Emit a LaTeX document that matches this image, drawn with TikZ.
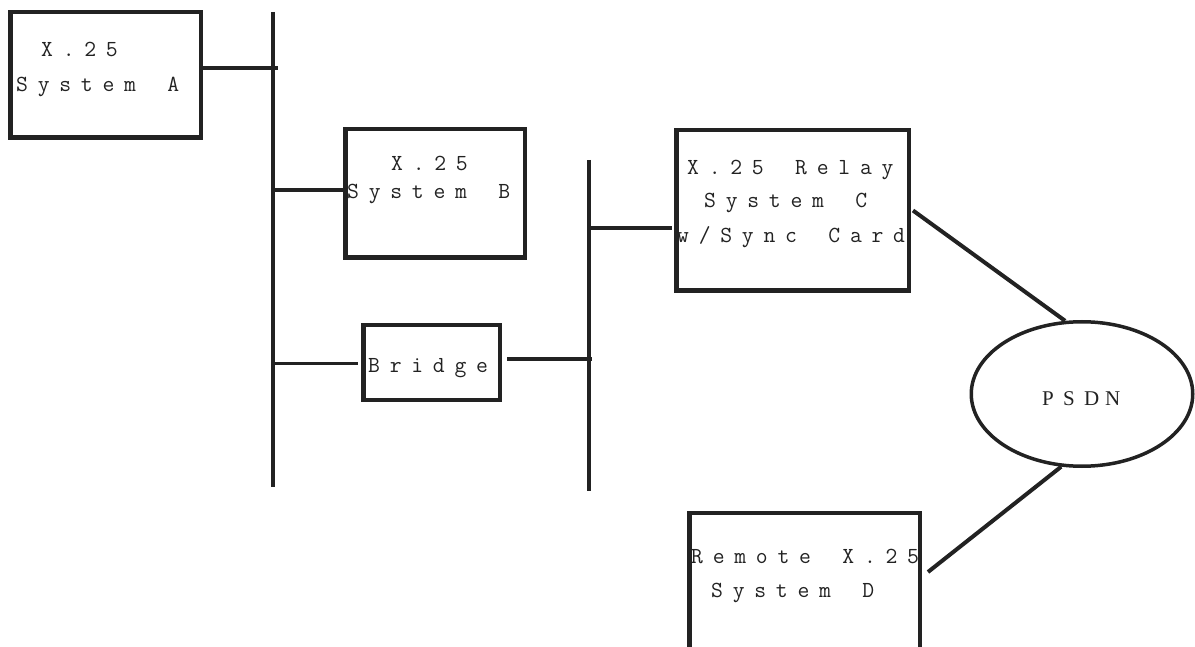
\documentclass[tikz,border=0pt]{standalone}
\usepackage{fontspec}
\newfontfamily\psdnfont{Liberation Serif}
\usetikzlibrary{shapes.geometric}
\definecolor{ink}{HTML}{222222}
\makeatletter
\newcommand\spaced[2][21.6pt]{\@tfor\@ch:=#2\do{\makebox[#1][l]{\@ch}}}
\makeatother
\begin{document}
\begin{tikzpicture}[x=1pt,y=-1pt,
  boxnode/.style={draw=ink, line width=4.5pt, inner sep=0pt, rectangle},
  bus/.style={draw=ink, line width=4pt},
  wire/.style={draw=ink, line width=3.5pt},
  lbl/.style={anchor=base west, inner sep=0pt, text=ink,
    font=\ttfamily\fontsize{23}{23}\selectfont}]
\useasboundingbox (0,0) rectangle (1195,647);
\clip (0,0) rectangle (1195,647);
% boxes
\node[boxnode, minimum width=190.5pt, minimum height=125.5pt] (A) at (105.5,75) {};
\node[boxnode, minimum width=179.5pt, minimum height=128.5pt] (B) at (435,193.5) {};
\node[boxnode, minimum width=136.5pt, minimum height=74.5pt] (BR) at (431.5,362.5) {};
\node[boxnode, minimum width=232.5pt, minimum height=160.5pt] (C) at (792.5,210.5) {};
\node[boxnode, minimum width=230.5pt, minimum height=157pt] (D) at (804.5,591.5) {};
\node[draw=ink, line width=3.5pt, ellipse, inner sep=0pt,
      minimum width=221.5pt, minimum height=144.5pt] (P) at (1082,394) {};
% labels
\node[lbl] (At1) at (41,57) {\spaced{X.25}};
\node[lbl] (At2) at (16,92) {\spaced{System~A}};
\node[lbl] (Bt1) at (391,171) {\spaced{X.25}};
\node[lbl] (Bt2) at (347,199) {\spaced{System~B}};
\node[lbl] (BRt) at (368,372) {\spaced{Bridge}};
\node[lbl] (Ct1) at (687,175) {\spaced{X.25~Relay}};
\node[lbl] (Ct2) at (704,208) {\spaced{System~C}};
\node[lbl] (Ct3) at (677,243) {\spaced{w/Sync~Card}};
\node[lbl] (Dt1) at (691,563) {\spaced{Remote~X.25}};
\node[lbl] (Dt2) at (711,597) {\spaced{System~D}};
\node[anchor=base west, inner sep=0pt, text=ink,
      font=\psdnfont\fontsize{21}{21}\selectfont] (Pt) at (1042,405) {\spaced[21pt]{PSDN}};
% buses
\coordinate (b1t) at (273,12);
\coordinate (b1b) at (273,487);
\coordinate (b2t) at (589,160);
\coordinate (b2b) at (589,491);
\draw[bus] (b1t) -- (b1b);
\draw[bus] (b2t) -- (b2b);
% connectors
\coordinate (ja) at (278,68);
\coordinate (jb) at (273,190);
\coordinate (jbl) at (273,363);
\coordinate (jbr) at (592,359);
\coordinate (jc) at (589,228);
\coordinate (jd) at (928,572);
\draw[wire, line width=4pt] (A.east |- ja) -- (ja);
\draw[wire, line width=4pt] (jb) -- (B.west |- jb);
\draw[wire, line width=3pt] (jbl) -- ([xshift=-3pt]BR.west |- jbl);
\draw[wire] ([xshift=5pt]BR.east |- jbr) -- (jbr);
\draw[wire] (jc) -- ([xshift=-2pt]C.west |- jc);
\draw[wire, line width=4pt] ([xshift=2pt]C.east) -- (P.103.5);
\draw[wire, line width=4pt] (jd) -- (P.254.5);
\end{tikzpicture}
\end{document}
